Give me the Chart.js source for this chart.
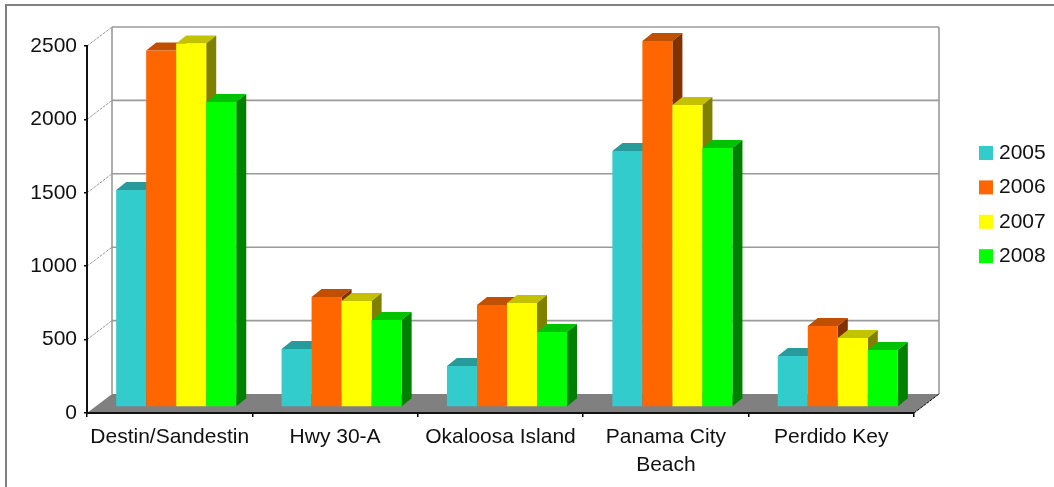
<!DOCTYPE html>
<html>
<head>
<meta charset="utf-8">
<title>Chart</title>
<style>
    html, body { margin: 0; padding: 0; background: #fff; overflow: hidden; }
    #frame { position: absolute; left: 5px; top: 4px; right: -4px; bottom: -4px; border: 2px solid #808080; }
    #chart { position: absolute; left: 0; top: 0; }
</style>
<script src="https://cdn.jsdelivr.net/npm/chart.js@4/dist/chart.umd.js"></script>
</head>
<body>
<div id="frame"></div>
<canvas id="chart" width="1054" height="487"></canvas>
<script>
// Chart data
const categorias = ['Destin/Sandestin', 'Hwy 30-A', 'Okaloosa Island', ['Panama City', 'Beach'], 'Perdido Key'];
const anios = ['2005', '2006', '2007', '2008'];
const v2005 = [1478, 395, 279, 1744, 347];
const v2006 = [2428, 749, 695, 2493, 552];
const v2007 = [2476, 722, 708, 2057, 470];
const v2008 = [2078, 593, 511, 1764, 388];
const colores = ['#33CCCC', '#FF6600', '#FFFF00', '#00FF00'];
const series = [v2005, v2006, v2007, v2008];

const FUENTE = '"Liberation Sans", Arial, sans-serif';
const TAM_FUENTE = 21;

// Depth of the box and of the bars, in pixels
const FONDO_X = 25, FONDO_Y = -19;
const BARRA_X = 6.5, BARRA_Y = -6;
const PROF_X = 10, PROF_Y = -8;

// Darkens a #rrggbb colour
function oscurecer(hex, f) {
    const n = parseInt(hex.slice(1), 16);
    const r = Math.round((n >> 16 & 255) * f);
    const g = Math.round((n >> 8 & 255) * f);
    const b = Math.round((n & 255) * f);
    return `rgb(${r},${g},${b})`;
}

function poligono(ctx, puntos, color) {
    ctx.beginPath();
    puntos.forEach((p, i) => i ? ctx.lineTo(p[0], p[1]) : ctx.moveTo(p[0], p[1]));
    ctx.closePath();
    ctx.fillStyle = color;
    ctx.fill();
}

function linea(ctx, x1, y1, x2, y2) {
    ctx.beginPath();
    ctx.moveTo(x1, y1);
    ctx.lineTo(x2, y2);
    ctx.stroke();
}

// Floor and back wall of the 3D box
const cajaPlugin = {
    id: 'caja',
    beforeDraw(chart) {
        const { ctx, scales } = chart;
        const izq = scales.x.left, der = scales.x.right;
        const base = scales.y.getPixelForValue(0);
        const techo = scales.y.getPixelForValue(2500);

        ctx.save();
        poligono(ctx, [[izq, base], [der, base], [der + FONDO_X, base + FONDO_Y], [izq + FONDO_X, base + FONDO_Y]], '#808080');

        ctx.strokeStyle = '#9A9A9A';
        ctx.lineWidth = 1.6;
        scales.y.ticks.forEach(t => {
            if (t.value === 0) return;
            const y = scales.y.getPixelForValue(t.value);
            linea(ctx, izq + FONDO_X, y + FONDO_Y, der + FONDO_X, y + FONDO_Y);
        });
        linea(ctx, izq + FONDO_X, techo + FONDO_Y, izq + FONDO_X, base + FONDO_Y);
        linea(ctx, der + FONDO_X, techo + FONDO_Y, der + FONDO_X, base + FONDO_Y);

        // Depth lines going from the axis to the wall
        ctx.lineWidth = 1;
        ctx.setLineDash([3, 1]);
        scales.y.ticks.forEach(t => {
            if (t.value === 0) return;
            const y = scales.y.getPixelForValue(t.value);
            linea(ctx, izq, y, izq + FONDO_X, y + FONDO_Y);
        });
        ctx.strokeStyle = '#000';
        linea(ctx, der, base, der + FONDO_X, base + FONDO_Y);
        ctx.restore();
    }
};

// Bars: native elements moved into the box, with top and side faces added
const barras3dPlugin = {
    id: 'barras3d',
    beforeDatasetsDraw(chart) {
        const { ctx } = chart;
        ctx.save();
        ctx.translate(BARRA_X, BARRA_Y);
        chart.data.labels.forEach((_, c) => {
            series.forEach((_, s) => {
                const barra = chart.getDatasetMeta(s).data[c];
                const izq = barra.x - barra.width / 2;
                const der = barra.x + barra.width / 2;
                poligono(ctx, [[izq, barra.y], [der, barra.y], [der + PROF_X, barra.y + PROF_Y], [izq + PROF_X, barra.y + PROF_Y]],
                    oscurecer(colores[s], 0.76));
                poligono(ctx, [[der, barra.y], [der + PROF_X, barra.y + PROF_Y], [der + PROF_X, barra.base + PROF_Y], [der, barra.base]],
                    oscurecer(colores[s], 0.5));
                barra.draw(ctx);
            });
        });
        ctx.restore();
        return false; // already drawn, in the right order
    }
};

// Legend on the right
const leyendaPlugin = {
    id: 'leyenda',
    afterDraw(chart) {
        const { ctx } = chart;
        ctx.save();
        ctx.font = `${TAM_FUENTE}px ${FUENTE}`;
        ctx.textBaseline = 'middle';
        anios.forEach((anio, i) => {
            const y = 146 + i * 34.4;
            ctx.fillStyle = colores[i];
            ctx.fillRect(979, y, 14, 14);
            ctx.fillStyle = '#111';
            ctx.fillText(anio, 999, y + 7);
        });
        ctx.restore();
    }
};

new Chart(document.getElementById('chart'), {
    type: 'bar',
    data: {
        labels: categorias,
        datasets: series.map((datos, i) => ({
            label: anios[i],
            data: datos,
            backgroundColor: colores[i],
            borderWidth: 0,
            barPercentage: 1,
            categoryPercentage: 0.726
        }))
    },
    options: {
        responsive: false,
        animation: false,
        layout: { padding: { top: 46, right: 140, left: 0, bottom: 0 } },
        plugins: {
            legend: { display: false },
            tooltip: { enabled: false }
        },
        scales: {
            x: {
                afterFit: (scale) => { scale.height = 74; },
                grid: { drawOnChartArea: false, color: '#000', tickLength: 4, lineWidth: 1.5 },
                border: { color: '#111', width: 2 },
                ticks: {
                    color: '#111',
                    padding: 6,
                    autoSkip: false,
                    maxRotation: 0,
                    font: { family: FUENTE, size: TAM_FUENTE, lineHeight: 1.33 }
                }
            },
            y: {
                min: 0,
                max: 2500,
                afterFit: (scale) => { scale.width = 87; },
                grid: { drawOnChartArea: false, color: '#000', tickLength: 3, lineWidth: 1.5 },
                border: { color: '#111', width: 2 },
                ticks: {
                    stepSize: 500,
                    color: '#111',
                    padding: 7,
                    callback: (valor) => String(valor),
                    font: { family: FUENTE, size: TAM_FUENTE }
                }
            }
        }
    },
    plugins: [cajaPlugin, barras3dPlugin, leyendaPlugin]
});
</script>
</body>
</html>
